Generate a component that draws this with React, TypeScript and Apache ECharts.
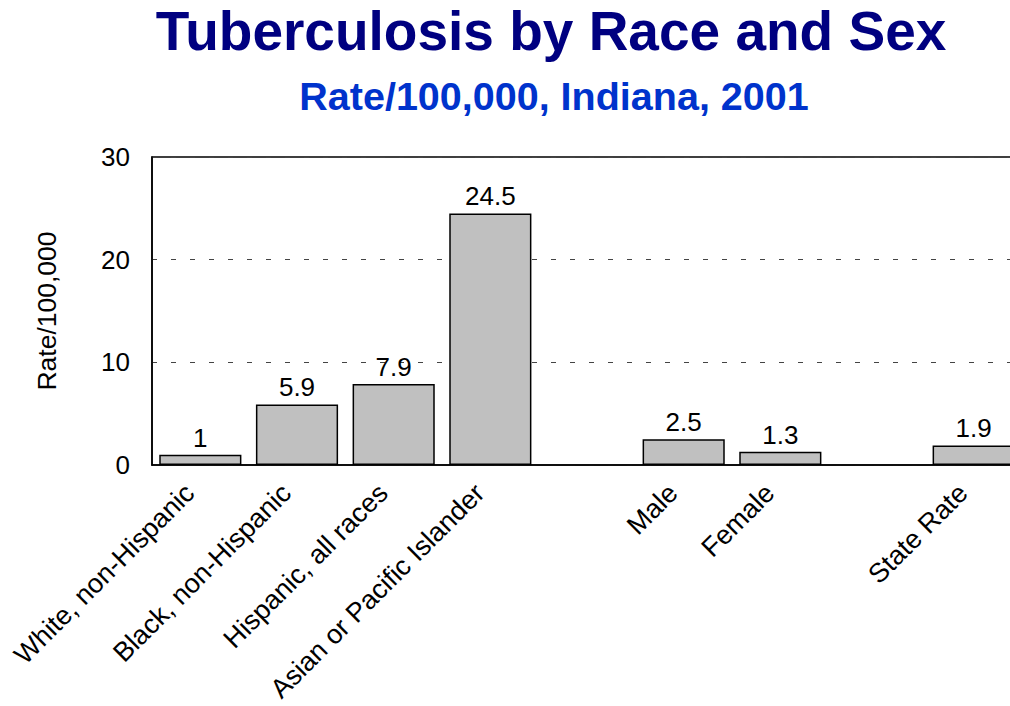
import React, { useEffect, useRef } from "react";
import * as echarts from "echarts";

const categories = [
  "White, non-Hispanic",
  "Black, non-Hispanic",
  "Hispanic, all races",
  "Asian or Pacific Islander",
  "",
  "Male",
  "Female",
  "",
  "State Rate",
];
const rates: (number | null)[] = [1, 5.9, 7.9, 24.5, null, 2.5, 1.3, null, 1.9];
const yTicks = { min: 0, max: 30, interval: 10 };

const FONT = "'Liberation Sans', Arial, Helvetica, sans-serif";

export default function App() {
  const ref = useRef<HTMLDivElement>(null);
  useEffect(() => {
    document.body.style.margin = "0";
    if (!ref.current) return;
    const chart = echarts.init(ref.current, null, { renderer: "svg" });
    chart.setOption({
      animation: false,
      backgroundColor: "#ffffff",
      title: [
        {
          text: "Tuberculosis by Race and Sex",
          left: 546,
          textAlign: "center",
          top: -2,
          textStyle: { fontFamily: FONT, fontSize: 55, fontWeight: "bold", color: "#000080" },
        },
        {
          text: "Rate/100,000, Indiana, 2001",
          left: 549,
          textAlign: "center",
          top: 71,
          textStyle: { fontFamily: FONT, fontSize: 39.5, fontWeight: "bold", color: "#0033CC" },
        },
      ],
      grid: {
        left: 152,
        top: 157,
        width: 870,
        height: 308,
        show: true,
        borderColor: "#000",
        borderWidth: 1.5,
        backgroundColor: "transparent",
        containLabel: false,
        outerBoundsMode: "none",
      },
      xAxis: {
        type: "category",
        data: categories,
        axisLine: { show: true, lineStyle: { color: "#000", width: 1.5 } },
        axisTick: { show: false },
        axisLabel: {
          interval: 0,
          rotate: 45,
          margin: 13,
          padding: [0, 15, 0, 0],
          fontFamily: FONT,
          fontSize: 27,
          color: "#000",
        },
      },
      yAxis: {
        type: "value",
        min: yTicks.min,
        max: yTicks.max,
        interval: yTicks.interval,
        name: "Rate/100,000",
        nameLocation: "middle",
        nameGap: 92,
        nameTextStyle: { fontFamily: FONT, fontSize: 26.5, color: "#000" },
        axisLine: { show: true, lineStyle: { color: "#000", width: 1.5 } },
        axisTick: { show: false },
        axisLabel: { margin: 22, fontFamily: FONT, fontSize: 26, color: "#000" },
        splitLine: {
          show: true,
          lineStyle: { color: "#444", width: 1, type: [5, 14] },
        },
      },
      series: [
        {
          type: "bar",
          data: rates,
          barCategoryGap: "15%",
          itemStyle: { color: "#C0C0C0", borderColor: "#000", borderWidth: 1.5 },
          label: {
            show: true,
            position: "top",
            distance: 4,
            fontFamily: FONT,
            fontSize: 26,
            color: "#000",
          },
        },
      ],
    });
    return () => chart.dispose();
  }, []);
  return <div ref={ref} style={{ width: 1010, height: 706 }} />;
}
